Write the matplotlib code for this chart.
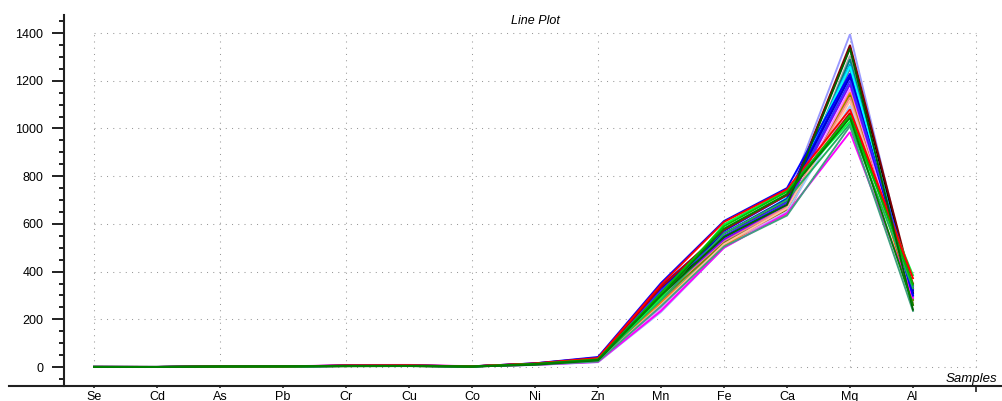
import matplotlib
matplotlib.use("Agg")
import matplotlib.pyplot as plt
from matplotlib.ticker import MultipleLocator, FixedLocator

plt.rcParams["font.family"] = ["Liberation Sans", "DejaVu Sans"]

# Elements along the x axis
elements = ["Se", "Cd", "As", "Pb", "Cr", "Cu", "Co", "Ni", "Zn", "Mn", "Fe", "Ca", "Mg", "Al"]

# Concentrations per element, one value per sample (28 samples)
se = [0.4, 0.5, 0.3, 0.6, 0.5, 0.4, 0.3, 0.5, 0.6, 0.4, 0.5, 0.3, 0.4, 0.5,
      0.6, 0.4, 0.3, 0.5, 0.4, 0.6, 0.5, 0.3, 0.4, 0.5, 0.4, 0.3, 0.5, 0.4]
cd = [0.2, 0.3, 0.2, 0.4, 0.3, 0.2, 0.3, 0.4, 0.3, 0.2, 0.3, 0.2, 0.3, 0.4,
      0.2, 0.3, 0.2, 0.4, 0.3, 0.2, 0.3, 0.4, 0.2, 0.3, 0.2, 0.3, 0.2, 0.4]
as_ = [1.2, 1.5, 2.0, 1.0, 1.4, 1.8, 1.1, 2.2, 1.6, 1.3, 1.7, 1.9, 1.2, 1.5,
       1.0, 1.4, 1.1, 2.4, 1.8, 1.6, 2.5, 1.3, 1.7, 1.2, 1.5, 1.4, 1.1, 2.0]
pb = [1.5, 2.0, 2.5, 1.2, 1.8, 2.2, 1.6, 2.8, 2.0, 1.7, 2.4, 2.1, 1.9, 1.5,
      1.3, 1.8, 1.4, 2.6, 2.3, 2.0, 2.9, 1.6, 2.2, 1.4, 1.9, 1.7, 1.3, 2.5]
cr = [4.0, 5.5, 3.5, 4.2, 5.0, 4.8, 3.8, 6.0, 5.2, 4.5, 4.0, 8.5, 3.6, 4.4,
      5.8, 3.9, 4.6, 6.5, 5.4, 4.1, 3.7, 5.6, 4.3, 3.4, 5.1, 4.7, 6.8, 5.9]
cu = [4.5, 6.0, 3.8, 4.6, 5.5, 5.0, 4.2, 6.4, 5.8, 4.8, 4.4, 9.0, 4.0, 4.9,
      6.2, 4.3, 5.1, 7.0, 5.9, 4.5, 4.1, 6.1, 4.7, 3.9, 5.6, 5.2, 7.2, 6.3]
co = [2.0, 2.8, 1.6, 2.2, 2.5, 2.4, 1.9, 3.0, 2.7, 2.1, 2.0, 3.5, 1.8, 2.3,
      2.9, 1.9, 2.4, 3.2, 2.8, 2.1, 1.8, 2.9, 2.2, 1.7, 2.6, 2.4, 3.4, 3.0]
ni = [10.5, 13.0, 9.5, 11.0, 12.0, 11.5, 10.0, 15.5, 14.0, 12.5, 11.8, 9.0, 10.8, 11.2,
      12.4, 9.8, 8.5, 15.0, 14.2, 13.0, 12.2, 13.5, 11.6, 9.2, 13.8, 11.4, 8.8, 15.2]
zn = [25, 30, 28, 24, 26, 30, 27, 42, 36, 33, 30, 22, 25, 26,
      28, 24, 20, 38, 35, 32, 30, 31, 29, 23, 33, 27, 21, 39]
mn = [250, 320, 300, 280, 265, 290, 275, 352, 330, 320, 300, 240, 270, 285,
      295, 260, 230, 345, 335, 310, 300, 290, 280, 255, 315, 260, 235, 340]
fe = [520, 560, 545, 510, 530, 540, 525, 612, 560, 550, 535, 505, 510, 520,
      530, 515, 500, 608, 575, 590, 580, 598, 560, 505, 545, 540, 500, 570]
ca = [700, 690, 680, 650, 660, 700, 670, 750, 705, 690, 680, 655, 640, 660,
      670, 665, 650, 745, 720, 735, 725, 740, 700, 635, 690, 710, 645, 720]
mg = [1395, 1350, 1335, 1305, 1290, 1270, 1250, 1230, 1215, 1200, 1185, 1165, 1150, 1140,
      1130, 1115, 1095, 1080, 1065, 1055, 1045, 1030, 1020, 1010, 1340, 1260, 985, 1220]
al = [300, 330, 240, 270, 285, 310, 295, 300, 320, 340, 325, 290, 260, 280,
      300, 310, 305, 372, 350, 345, 260, 385, 330, 235, 310, 315, 290, 300]

line_colors = ["#9999FF", "#800000", "#006400", "#A0A0A0", "#008080", "#00A0E0", "#4682B4",
               "#0000FF", "#0000CC", "#3030FF", "#8000FF", "#FF80FF", "#FF8000", "#808000",
               "#FF8080", "#FFC0A0", "#A0C8FF", "#FF0000", "#C00000", "#00C000", "#008000",
               "#00FF40", "#20B060", "#40A080", "#000000", "#00FFFF", "#FF00FF", "#0000FF"]

# drawing order: blues first, reds and greens on top
draw_order = [0, 3, 4, 5, 6, 25, 11, 12, 13, 14, 15, 16, 26, 10, 24, 1, 7, 27, 8, 9,
              22, 23, 21, 18, 17, 19, 2, 20]

columns = [se, cd, as_, pb, cr, cu, co, ni, zn, mn, fe, ca, mg, al]

W, H = 1002, 401
fig = plt.figure(figsize=(W / 100, H / 100), dpi=100)
fig.patch.set_facecolor("white")

# axes box in pixels (x-axis line at the bottom, spans to the right edge)
left_px, right_px, top_px, bottom_px = 9, 1002, 15, 386
ax = fig.add_axes([left_px / W, 1 - bottom_px / H,
                   (right_px - left_px) / W, (bottom_px - top_px) / H])
ax.set_facecolor("white")

x = list(range(len(elements)))
for s in draw_order:
    ys = [col[s] for col in columns]
    ax.plot(x, ys, color=line_colors[s], lw=1.35, solid_joinstyle="miter", zorder=3)

ax.set_xlim(-1.349, 14.413)
ax.set_ylim((367 - 386) / 0.23857, (367 - 15) / 0.23857)

# dotted grid
dot = (0, (1, 5))
for yv in range(0, 1401, 200):
    ax.plot([0, 14], [yv, yv], color="#999999", lw=0.75, ls=dot, zorder=1)
for xv in range(0, 15, 2):
    ax.plot([xv, xv], [0, 1400], color="#999999", lw=0.75, ls=dot, zorder=1)

# spines
for side in ("top", "right"):
    ax.spines[side].set_visible(False)
ax.spines["left"].set_position(("data", -0.476))
ax.spines["left"].set_linewidth(1.5)
ax.spines["bottom"].set_linewidth(1.5)
ax.spines["left"].set_color("#202020")
ax.spines["bottom"].set_color("#202020")

# y axis ticks
ax.set_yticks(range(0, 1401, 200))
ax.yaxis.set_minor_locator(MultipleLocator(50))
ax.tick_params(axis="y", which="major", direction="out", length=8.6, width=1.4,
               pad=6.3, labelsize=9, color="#202020")
ax.tick_params(axis="y", which="minor", direction="out", length=3.6, width=1.4,
               color="#202020")

# x axis: labels on every element, longer ticks on every second position
ax.set_xticks(x)
ax.set_xticklabels(elements)
ax.tick_params(axis="x", which="major", direction="out", length=1.5, width=1.2,
               pad=2.2, labelsize=9, color="#202020")
ax.xaxis.set_minor_locator(FixedLocator(list(range(0, 15, 2))))
ax.tick_params(axis="x", which="minor", direction="out", length=4.3, width=1.2,
               color="#202020")

fig.text(535 / W, 1 - 24 / H, "Line Plot", ha="center", va="baseline",
         fontsize=9, fontstyle="italic")
fig.text(997 / W, 1 - 382 / H, "Samples", ha="right", va="baseline",
         fontsize=9.5, fontstyle="italic")

fig.savefig("out.png", dpi=100)
